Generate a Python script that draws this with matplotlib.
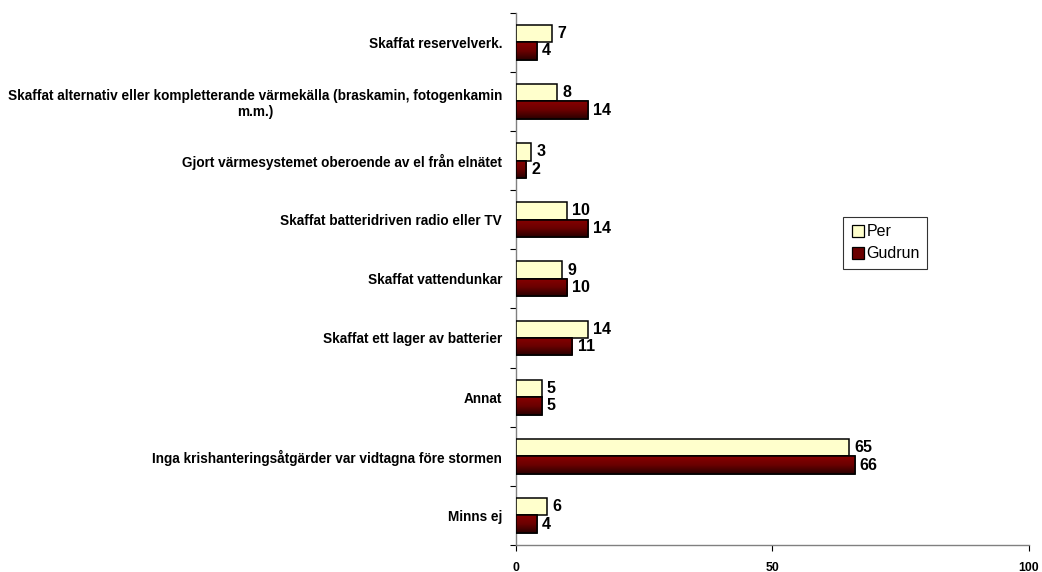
import matplotlib
matplotlib.use("Agg")
import matplotlib.pyplot as plt
import numpy as np
from matplotlib.colors import LinearSegmentedColormap
from matplotlib.lines import Line2D

plt.rcParams['font.family'] = ['Liberation Sans', 'DejaVu Sans']

categories = [
    "Skaffat reservelverk.",
    "Skaffat alternativ eller kompletterande värmekälla (braskamin, fotogenkamin\nm.m.)",
    "Gjort värmesystemet oberoende av el från elnätet",
    "Skaffat batteridriven radio eller TV",
    "Skaffat vattendunkar",
    "Skaffat ett lager av batterier",
    "Annat",
    "Inga krishanteringsåtgärder var vidtagna före stormen",
    "Minns ej",
]
per = [7, 8, 3, 10, 9, 14, 5, 65, 6]
gudrun = [4, 14, 2, 14, 10, 11, 5, 66, 4]
series_names = ["Per", "Gudrun"]
xticks = [0, 50, 100]

fig = plt.figure(figsize=(10.42, 5.72), dpi=100)
ax = fig.add_axes([0.4952, 0.0472, 0.4923, 0.9306])

n = len(categories)
y = np.arange(n)
h = 0.295
per_col = "#FFFFCC"
gud_top = "#800000"

ax.barh(y - h / 2, per, height=h, color=per_col, edgecolor="black", linewidth=1.1, zorder=3)
gbars = ax.barh(y + h / 2, gudrun, height=h, color=gud_top, edgecolor="black", linewidth=1.1, zorder=3)

cmap = LinearSegmentedColormap.from_list("g", ["#880000", "#6a0000", "#2a0000"])
grad = np.linspace(0, 1, 64).reshape(-1, 1)
for b in gbars:
    x0, y0 = b.get_x(), b.get_y()
    w, hh = b.get_width(), b.get_height()
    im = ax.imshow(grad, cmap=cmap, aspect="auto", extent=[x0, x0 + w, y0 + hh, y0],
                   origin="upper", zorder=3.5, interpolation="bilinear")
    im.set_clip_path(b)
    b2 = plt.Rectangle((x0, y0), w, hh, fill=False, edgecolor="black", linewidth=1.1, zorder=4)
    ax.add_patch(b2)

for i in range(n):
    ax.text(per[i] + 1.0, y[i] - h / 2, str(per[i]), va="center", ha="left",
            fontsize=11.5, fontweight="bold", zorder=5)
    ax.text(gudrun[i] + 1.0, y[i] + h / 2, str(gudrun[i]), va="center", ha="left",
            fontsize=11.5, fontweight="bold", zorder=5)

ax.set_xlim(0, 100)
ax.set_ylim(n - 0.5, -0.5)
ax.set_xticks(xticks)
ax.set_xticklabels([str(t) for t in xticks], fontsize=8.8, fontweight="bold")
ax.set_yticks(np.arange(n + 1) - 0.5)
ax.set_yticklabels([])
ax.set_yticks(y, minor=True)
ax.set_yticklabels(categories, minor=True, fontsize=9.8, fontweight="bold", multialignment="center")
ax.tick_params(axis="y", which="minor", length=0, pad=10)
ax.tick_params(axis="y", which="major", length=4, width=0.8, direction="out")
ax.tick_params(axis="x", length=4, width=0.8, direction="out", pad=8)
for s in ["top", "right"]:
    ax.spines[s].set_visible(False)
for s in ["left", "bottom"]:
    ax.spines[s].set_color("#808080")
    ax.spines[s].set_linewidth(1.0)

handles = [
    Line2D([], [], marker="s", linestyle="none", markersize=9, markerfacecolor=per_col,
           markeredgecolor="black", markeredgewidth=0.9),
    Line2D([], [], marker="s", linestyle="none", markersize=9, markerfacecolor="#6a0000",
           markeredgecolor="black", markeredgewidth=0.9),
]
leg = ax.legend(handles, series_names, loc="upper left", bbox_to_anchor=(0.637, 0.616),
                frameon=True, fancybox=False, edgecolor="black", fontsize=11.5,
                handletextpad=0.05, handlelength=1.0, borderpad=0.45, labelspacing=0.45,
                borderaxespad=0)
leg.get_frame().set_linewidth(0.8)

fig.savefig("out.png", dpi=100)
